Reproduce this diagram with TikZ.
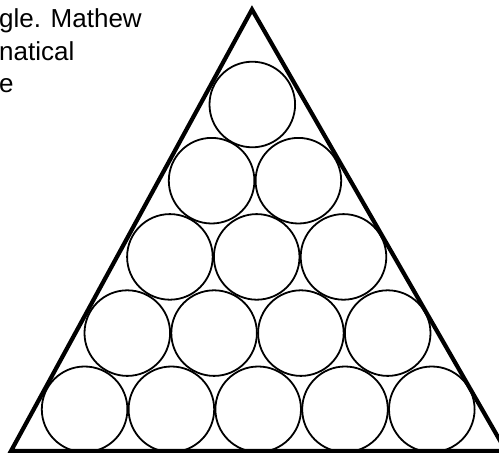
\documentclass[tikz,border=0pt]{standalone}
\usepackage{fontspec}
\setmainfont{Liberation Sans}
\begin{document}
\begin{tikzpicture}[x=1pt,y=-1pt,
  ball/.style={draw=black, line width=1.8pt},
  frame/.style={draw=black, line width=4.2pt, line join=miter},
  txt/.style={anchor=base west, inner sep=0pt, font=\fontsize{26}{31}\selectfont}]
\useasboundingbox (0,0) rectangle (499,453);
\clip (0,0) rectangle (499,453);
\fill[white] (0,0) rectangle (499,453);
% text fragments
\node[txt] (t1) at (-1,27) {gle. Mathew};
\node[txt] (t2) at (-1,60) {natical};
\node[txt] (t3) at (-1,92) {e};
% circles
\foreach \r/\xc in {0/252.3,1/255,2/256.7,3/257.5,4/258.2}{
  \pgfmathsetmacro{\yc}{104.5+76.2*\r}
  \foreach \i in {0,...,\r}{
    \pgfmathsetmacro{\xx}{\xc+(\i-\r/2)*86.8}
    \draw[ball] (\xx,\yc) circle[radius=42.8pt];
  }
}
% triangle
\coordinate (apex) at (252,9.5);
\coordinate (bl) at (11,451);
\coordinate (br) at (506,451);
\draw[frame] (apex) -- (br) -- (bl) -- cycle;
\end{tikzpicture}
\end{document}
